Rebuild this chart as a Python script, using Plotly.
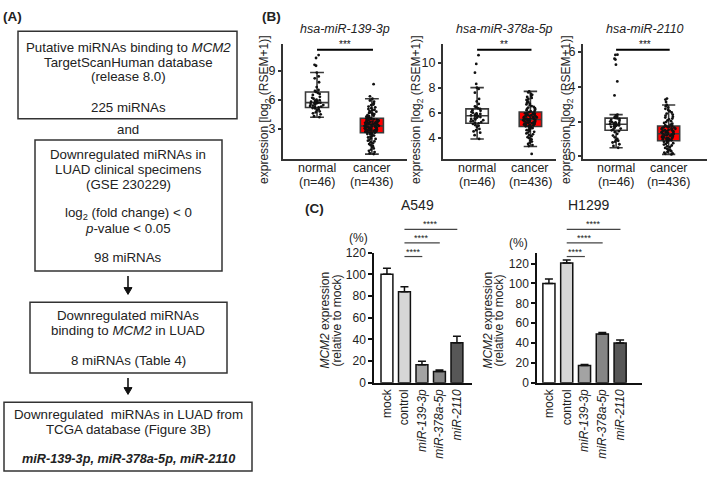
import plotly.graph_objects as go

W, H = 709, 482
FONT = "Liberation Sans, Arial, sans-serif"

# ---------------- data ----------------
mirnas = ["hsa-miR-139-3p", "hsa-miR-378a-5p", "hsa-miR-2110"]
group_names = ["normal", "cancer"]
group_counts = ["(n=46)", "(n=436)"]
signif_B = ["***", "**", "***"]

# box statistics [normal, cancer] (q1, median, q3, lower whisker, upper whisker)
q1_139 = [5.2, 2.6]
med_139 = [5.7, 3.3]
q3_139 = [6.8, 4.1]
lo_139 = [4.2, 0.4]
hi_139 = [8.8, 6.1]

q1_378 = [5.15, 4.9]
med_378 = [5.75, 5.45]
q3_378 = [6.3, 6.05]
lo_378 = [3.9, 3.3]
hi_378 = [8.0, 7.7]

q1_2110 = [1.5, 0.9]
med_2110 = [1.85, 1.3]
q3_2110 = [2.2, 1.75]
lo_2110 = [0.5, 0.12]
hi_2110 = [2.4, 2.95]

normal_139 = [10.6, 10.3, 9.6, 9.5, 8.4, 8.8, 8.2, 7.8, 7.3, 7.0,
              6.9, 6.8, 6.7, 6.6, 6.5, 6.3, 6.2, 6.1, 6.0, 5.95,
              5.9, 5.85, 5.8, 5.75, 5.7, 5.7, 5.65, 5.6, 5.55, 5.5,
              5.45, 5.4, 5.35, 5.3, 5.25, 5.2, 5.15, 5.1, 5.0, 4.9,
              4.8, 4.7, 4.6, 4.5, 4.3, 4.2]
cancer_139 = [7.6, 6.35, 6.1, 5.92, 5.8, 5.63, 5.51, 5.44, 5.3, 5.22, 5.13, 5.04, 4.97, 4.91,
              4.83, 4.77, 4.71, 4.64, 4.58, 4.52, 4.47, 4.41, 4.36, 4.31, 4.27, 4.22, 4.17, 4.13,
              4.09, 4.06, 4.02, 3.99, 3.95, 3.92, 3.88, 3.86, 3.83, 3.79, 3.76, 3.74, 3.71, 3.68,
              3.65, 3.62, 3.6, 3.57, 3.55, 3.52, 3.49, 3.46, 3.44, 3.41, 3.38, 3.36, 3.33, 3.31,
              3.29, 3.27, 3.24, 3.21, 3.19, 3.16, 3.13, 3.11, 3.08, 3.05, 3.03, 3.0, 2.98, 2.95,
              2.92, 2.9, 2.87, 2.84, 2.82, 2.79, 2.76, 2.74, 2.71, 2.68, 2.66, 2.63, 2.61,
              2.57, 2.52, 2.47, 2.43, 2.38, 2.31, 2.26, 2.18, 2.11, 2.03, 1.96, 1.87, 1.78, 1.71,
              1.62, 1.51, 1.43, 1.32, 1.21, 1.12, 0.98, 0.87, 0.74, 0.61, 0.49, 0.4]

normal_378 = [10.6, 9.9, 9.2, 8.3, 8.0, 7.9, 7.6, 7.1, 6.9, 6.7,
              6.5, 6.45, 6.35, 6.3, 6.2, 6.15, 6.05, 6.0, 5.95, 5.9,
              5.85, 5.8, 5.78, 5.75, 5.7, 5.65, 5.6, 5.55, 5.5, 5.45,
              5.4, 5.35, 5.3, 5.25, 5.2, 5.15, 5.1, 5.0, 4.95, 4.85,
              4.7, 4.6, 4.5, 4.4, 4.2, 3.9]
cancer_378 = [7.7, 7.62, 7.51, 7.43, 7.35, 7.26, 7.18, 7.1, 7.02, 6.95, 6.87, 6.8, 6.73, 6.66,
              6.6, 6.53, 6.47, 6.41, 6.36, 6.3, 6.25, 6.2, 6.15, 6.1,
              6.04, 6.01, 5.98, 5.95, 5.92, 5.89, 5.86, 5.83, 5.8, 5.78, 5.75, 5.72, 5.7, 5.67,
              5.65, 5.62, 5.6, 5.57, 5.55, 5.53, 5.5, 5.48, 5.46,
              5.44, 5.42, 5.4, 5.37, 5.35, 5.33, 5.3, 5.28, 5.25, 5.23, 5.2, 5.18, 5.15, 5.13,
              5.1, 5.08, 5.05, 5.03, 5.0, 4.98, 4.95, 4.93, 4.91,
              4.87, 4.82, 4.77, 4.71, 4.66, 4.6, 4.54, 4.47, 4.41, 4.34, 4.27, 4.2, 4.12, 4.04,
              3.96, 3.87, 3.78, 3.69, 3.6, 3.5, 3.41, 3.33, 2.7]

normal_2110 = [5.83, 5.82, 5.6, 5.55, 5.26, 4.3, 3.5, 2.4, 2.35, 2.3,
               2.25, 2.2, 2.18, 2.15, 2.1, 2.05, 2.0, 1.97, 1.95, 1.92,
               1.9, 1.88, 1.85, 1.83, 1.8, 1.78, 1.75, 1.72, 1.7, 1.65,
               1.6, 1.55, 1.5, 1.45, 1.4, 1.3, 1.2, 1.1, 1.0, 0.95,
               0.9, 0.85, 0.8, 0.7, 0.6, 0.5]
cancer_2110 = [3.32, 3.26, 3.12, 2.95, 2.88, 2.8, 2.73, 2.66, 2.59, 2.52, 2.46, 2.4, 2.34, 2.28,
               2.23, 2.17, 2.12, 2.07, 2.02, 1.97, 1.92, 1.88, 1.83, 1.79,
               1.75, 1.73, 1.71, 1.69, 1.67, 1.65, 1.63, 1.61, 1.59, 1.57, 1.55, 1.53, 1.51, 1.49,
               1.47, 1.45, 1.43, 1.41, 1.39, 1.37, 1.35, 1.33, 1.31,
               1.29, 1.27, 1.25, 1.23, 1.21, 1.19, 1.17, 1.15, 1.13, 1.11, 1.09, 1.07, 1.05, 1.03,
               1.01, 0.99, 0.97, 0.95, 0.93, 0.91,
               0.88, 0.84, 0.8, 0.76, 0.72, 0.68, 0.63, 0.58, 0.54, 0.49, 0.44, 0.39, 0.34, 0.3,
               0.26, 0.22, 0.18, 0.15, 0.12]

# panel C
conditions = ["mock", "control", "<i>miR-139-3p</i>", "<i>miR-378a-5p</i>", "<i>miR-2110</i>"]
bar_colors = ["#ffffff", "#d6d6d6", "#a3a3a3", "#858585", "#575757"]
a549_vals = [100, 84, 16.5, 10.3, 37]
a549_err = [5.6, 4.6, 3.4, 1.4, 6]
h1299_vals = [100, 120.5, 17.5, 49, 40]
h1299_err = [4.5, 3, 1, 1.5, 3]
signif_C = ["****", "****", "****"]


def px(x):
    return x / W


def py(y):
    return 1 - y / H


fig = go.Figure()

# ---------------- panel B: box plots ----------------
box_sets = [
    (q1_139, med_139, q3_139, lo_139, hi_139, normal_139, cancer_139),
    (q1_378, med_378, q3_378, lo_378, hi_378, normal_378, cancer_378),
    (q1_2110, med_2110, q3_2110, lo_2110, hi_2110, normal_2110, cancer_2110),
]
for i, (q1, med, q3, lo, hi, nrm, cnc) in enumerate(box_sets):
    xa = "x" if i == 0 else f"x{i+1}"
    ya = "y" if i == 0 else f"y{i+1}"
    fills = ["#ffffff", "#ff0000"]
    for g in range(2):
        fig.add_trace(go.Box(
            x=[g], q1=[q1[g]], median=[med[g]], q3=[q3[g]],
            lowerfence=[lo[g]], upperfence=[hi[g]],
            width=0.42, whiskerwidth=0.6, boxpoints=False,
            fillcolor=fills[g], line=dict(color="#3a3a3a", width=1.6),
            xaxis=xa, yaxis=ya, showlegend=False, hoverinfo="skip"))
    for g, vals in enumerate([nrm, cnc]):
        fig.add_trace(go.Box(
            x=[g] * len(vals), y=vals, width=0.42,
            boxpoints="all", jitter=0.65, pointpos=0,
            fillcolor="rgba(0,0,0,0)", line=dict(width=0, color="rgba(0,0,0,0)"),
            marker=dict(color="#111111", size=2.8),
            xaxis=xa, yaxis=ya, showlegend=False, hoverinfo="skip"))

# ---------------- panel C: bars ----------------
for k, (vals, err) in enumerate([(a549_vals, a549_err), (h1299_vals, h1299_err)]):
    xa = f"x{4+k}"
    ya = f"y{4+k}"
    fig.add_trace(go.Bar(
        x=list(range(len(vals))), y=vals,
        marker=dict(color=bar_colors, line=dict(color="#111111", width=1.5)),
        error_y=dict(type="data", symmetric=False, array=err, arrayminus=[0] * len(err),
                     thickness=1.5, width=4, color="#111111"),
        width=0.68, xaxis=xa, yaxis=ya, showlegend=False, hoverinfo="skip"))

# ---------------- axes ----------------
axis_common = dict(showgrid=False, zeroline=False, showline=True, linecolor="#333333",
                   linewidth=2, tickfont=dict(size=12.5, color="#222222", family=FONT))

b_x_domains = [(283, 407), (443, 556), (583, 707)]
b_x_ranges = [(-0.62, 1.64), (-0.64, 1.48), (-0.63, 1.73)]
b_y_ranges = [(-0.15, 11.75), (2.26, 11.5), (-0.17, 6.45)]
b_y_ticks = [[3, 6, 9], [4, 6, 8, 10], [0, 2, 4, 6]]
layout_axes = {}
for i in range(3):
    xn = "xaxis" if i == 0 else f"xaxis{i+1}"
    yn = "yaxis" if i == 0 else f"yaxis{i+1}"
    ax_anchor = "y" if i == 0 else f"y{i+1}"
    ay_anchor = "x" if i == 0 else f"x{i+1}"
    layout_axes[xn] = dict(axis_common, domain=[px(b_x_domains[i][0]), px(b_x_domains[i][1])],
                           range=list(b_x_ranges[i]), anchor=ax_anchor,
                           showticklabels=False, ticks="")
    layout_axes[yn] = dict(axis_common, domain=[py(157), py(38)], range=list(b_y_ranges[i]),
                           anchor=ay_anchor, tickvals=b_y_ticks[i], ticks="outside",
                           ticklen=3, tickwidth=1.5, tickcolor="#333333")

c_x_domains = [(374, 472), (537, 642)]
c_x_ranges = [(-0.74, 4.86), (-0.67, 5.23)]
c_y_ranges = [(0, 120), (0, 131)]
for k in range(2):
    layout_axes[f"xaxis{4+k}"] = dict(axis_common, linewidth=1.5, linecolor="#111111",
                                      domain=[px(c_x_domains[k][0]), px(c_x_domains[k][1])],
                                      range=list(c_x_ranges[k]), anchor=f"y{4+k}",
                                      tickvals=list(range(5)), ticktext=conditions,
                                      tickangle=-90, ticks="",
                                      tickfont=dict(size=12, color="#222222", family=FONT))
    layout_axes[f"yaxis{4+k}"] = dict(axis_common, linewidth=1.5, linecolor="#111111",
                                      domain=[py(387), py(253)], range=list(c_y_ranges[k]),
                                      anchor=f"x{4+k}", tickvals=[0, 20, 40, 60, 80, 100, 120],
                                      ticks="outside", ticklen=4, tickwidth=1.5, tickcolor="#111111",
                                      tickfont=dict(size=12, color="#222222", family=FONT))

annotations = []
shapes = []


def text(x, y, s, size=12.5, **kw):
    annotations.append(dict(x=px(x), y=py(y), xref="paper", yref="paper", text=s,
                            showarrow=False, xanchor=kw.pop("xanchor", "center"),
                            yanchor=kw.pop("yanchor", "middle"),
                            font=dict(size=size, color=kw.pop("color", "#222222"), family=FONT),
                            **kw))


# ---------------- panel A: flowchart ----------------
text(12, 10, "<b>(A)</b>", size=13.5)
text(271, 10, "<b>(B)</b>", size=13.5)
text(314, 208, "<b>(C)</b>", size=13.5)

boxes = [(18, 25, 237, 115), (35, 137, 222, 272), (30, 304, 227, 377), (4, 407, 252, 478)]
for (x0, y0, x1, y1) in boxes:
    shapes.append(dict(type="rect", xref="paper", yref="paper", x0=px(x0), x1=px(x1),
                       y0=py(y1), y1=py(y0), line=dict(color="#333333", width=1.5)))

cx = 128
flow_lines = [
    (42, "Putative miRNAs binding to <i>MCM2</i>", 13.3),
    (57, "TargetScanHuman database", 13.3),
    (72, "(release 8.0)", 13.3),
    (103, "225 miRNAs", 13.3),
    (126, "and", 13.3),
    (152, "Downregulated miRNAs in", 13.3),
    (167, "LUAD clinical specimens", 13.3),
    (183, "(GSE 230229)", 13.3),
    (213, "log<sub>2</sub> (fold change) &lt; 0", 13.3),
    (228, "<i>p</i>-value &lt; 0.05", 13.3),
    (258, "98 miRNAs", 13.3),
    (318, "Downregulated miRNAs", 13.3),
    (333, "binding to <i>MCM2</i> in LUAD", 13.3),
    (364, "8 miRNAs (Table 4)", 13.3),
    (420, "Downregulated&nbsp; miRNAs in LUAD from", 13.3),
    (435, "TCGA database (Figure 3B)", 13.3),
    (466, "<b><i>miR-139-3p, miR-378a-5p, miR-2110</i></b>", 12.7),
]
for y, s, fs in flow_lines:
    text(cx, y, s, size=fs)

# arrows (line + filled head)
for (ya0, ya1) in [(277, 296), (382, 399)]:
    shapes.append(dict(type="line", xref="paper", yref="paper", x0=px(cx), x1=px(cx),
                       y0=py(ya0), y1=py(ya1 - 5), line=dict(color="#111111", width=1.6)))
    shapes.append(dict(type="path", xref="paper", yref="paper",
                       path=f"M {px(cx-4)},{py(ya1-7)} L {px(cx+4)},{py(ya1-7)} L {px(cx)},{py(ya1)} Z",
                       fillcolor="#111111", line=dict(color="#111111", width=1)))

# ---------------- panel B: titles and annotations ----------------
b_title_x = [345, 504, 645]
b_ylab_x = [265, 417, 567]
for i in range(3):
    text(b_title_x[i], 23, f"<i>{mirnas[i]}</i>", size=12.5)
    text(b_ylab_x[i], 106, "expression [log<sub>2</sub> (RSEM+1)]", size=12, textangle=-90)
    text(b_title_x[i], 39, signif_B[i], size=10, color="#111111")
    xa = "x" if i == 0 else f"x{i+1}"
    shapes.append(dict(type="line", xref=xa, yref="paper", x0=0, x1=1.02, y0=py(44), y1=py(44),
                       line=dict(color="#000000", width=2)))
    for g in range(2):
        annotations.append(dict(x=g, y=py(166), xref=xa, yref="paper", text=group_names[g],
                                showarrow=False, font=dict(size=12.5, color="#222222", family=FONT)))
        annotations.append(dict(x=g, y=py(180), xref=xa, yref="paper", text=group_counts[g],
                                showarrow=False, font=dict(size=12.5, color="#222222", family=FONT)))

# ---------------- panel C: titles and annotations ----------------
c_titles = ["A549", "H1299"]
c_title_x = [417, 588]
c_ylab_x = [[325, 337], [488, 499]]
c_pct_x = [358, 518]
c_pct_y = [238, 243]
for k in range(2):
    text(c_title_x[k], 204, c_titles[k], size=14)
    text(c_ylab_x[k][0], 323, "<i>MCM2</i> expression", size=12, textangle=-90)
    text(c_ylab_x[k][1], 323, "(relative to mock)", size=12, textangle=-90)
    text(c_pct_x[k], c_pct_y[k], "(%)", size=12)
    xa = f"x{4+k}"
    for j, (ly, ty) in enumerate([(257, 252), (243, 238), (229, 224)]):
        shapes.append(dict(type="line", xref=xa, yref="paper", x0=1, x1=2 + j + 0.02,
                           y0=py(ly), y1=py(ly), line=dict(color="#444444", width=1.2)))
        annotations.append(dict(x=(1 + 2 + j) / 2, y=py(ty), xref=xa, yref="paper",
                                text=signif_C[j], showarrow=False,
                                font=dict(size=9, color="#222222", family=FONT)))

fig.update_layout(
    width=W, height=H, margin=dict(l=0, r=0, t=0, b=0),
    paper_bgcolor="white", plot_bgcolor="white",
    font=dict(family=FONT, color="#222222"),
    boxmode="overlay", barmode="overlay",
    annotations=annotations, shapes=shapes,
    **layout_axes,
)

fig.write_html("out.html", config={"displayModeBar": False},
               post_script="document.body.style.margin='0';")
